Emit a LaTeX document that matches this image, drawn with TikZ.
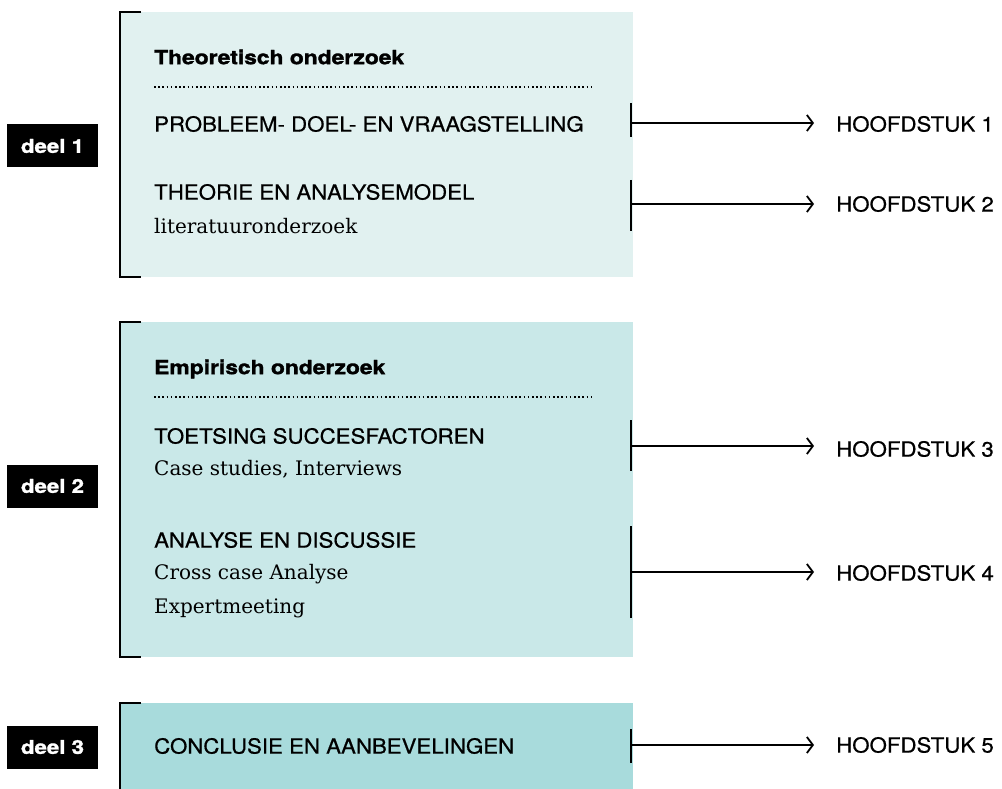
\documentclass[tikz,border=0pt]{standalone}
\usepackage{fontspec}
\setmainfont{DejaVu Serif}
\setsansfont{TeX Gyre Heros}
\newfontfamily\capsfont{TeX Gyre Heros}[FakeStretch=1.07, FakeBold=0.6]
\newfontfamily\heavyfont{TeX Gyre Heros Bold}[FakeStretch=1.17, FakeBold=1.6]
\usetikzlibrary{arrows.meta}

\definecolor{fillA}{HTML}{E1F1F0}
\definecolor{fillB}{HTML}{C9E8E8}
\definecolor{fillC}{HTML}{A8DBDC}

\tikzset{
  caps/.style={anchor=west, inner sep=0pt, font=\capsfont\fontsize{20.8}{24}\selectfont},
  head/.style={anchor=west, inner sep=0pt, font=\heavyfont\fontsize{19.5}{22}\selectfont},
  sub/.style={anchor=west, inner sep=0pt, font=\rmfamily\fontsize{20}{24}\selectfont},
  deel/.style={fill=black, text=white, minimum width=91pt, minimum height=43pt, inner sep=0pt,
    font=\heavyfont\fontsize{19}{22}\selectfont},
  bracket/.style={line width=2.4pt},
  dots/.style={line width=1.6pt, dash pattern=on 1.6pt off 2.6pt},
  tick/.style={line width=2.2pt},
  arr/.style={line width=1.8pt, -{Straight Barb[length=6pt,width=16pt,line width=1.8pt]}},
}

\begin{document}
\begin{tikzpicture}[x=1pt,y=-1pt]
\useasboundingbox (0,0) rectangle (1002,789);

% --- section panels -------------------------------------------------
\fill[fillA] (120,12) rectangle (633,277);
\fill[fillB] (120,322) rectangle (633,657);
\fill[fillC] (120,703) rectangle (633,789);

% brackets on the left of each panel
\draw[bracket] (141,12) -- (120,12) -- (120,277) -- (141,277);
\draw[bracket] (141,322) -- (120,322) -- (120,657) -- (141,657);
\draw[bracket] (141,703) -- (120,703) -- (120,792);

% --- part labels ----------------------------------------------------
\node[deel] (d1) at (52.5,146) {deel 1\hspace{5pt}};
\node[deel] (d2) at (52.5,486) {deel 2\hspace{5pt}};
\node[deel] (d3) at (52.5,747) {deel 3\hspace{5pt}};

% --- part 1 ---------------------------------------------------------
\node[head] (t1) at (154,57) {Theoretisch onderzoek};
\draw[dots] (154,87) -- (593,87);
\node[caps] (p1) at (154,124) {PROBLEEM- DOEL- EN VRAAGSTELLING};
\node[caps] (p2) at (154,192) {THEORIE EN ANALYSEMODEL};
\node[sub]  (s2) at (154,226) {literatuuronderzoek};

% --- part 2 ---------------------------------------------------------
\node[head] (t2) at (154,369) {Empirisch onderzoek};
\draw[dots] (154,397) -- (593,397);
\node[caps] (p3) at (154,436) {TOETSING SUCCESFACTOREN};
\node[sub]  (s3) at (154,469) {Case studies, Interviews};
\node[caps] (p4) at (154,540) {ANALYSE EN DISCUSSIE};
\node[sub]  (s4a) at (154,574) {Cross case Analyse};
\node[sub]  (s4b) at (154,608) {Expertmeeting};

% --- part 3 ---------------------------------------------------------
\node[caps] (p5) at (154,746) {CONCLUSIE EN AANBEVELINGEN};

% --- chapter references ---------------------------------------------
\node[caps] (h1) at (836,124) {HOOFDSTUK 1};
\node[caps] (h2) at (836,204) {HOOFDSTUK 2};
\node[caps] (h3) at (836,449) {HOOFDSTUK 3};
\node[caps] (h4) at (836,573) {HOOFDSTUK 4};
\node[caps] (h5) at (836,745) {HOOFDSTUK 5};

\coordinate (a1) at (631,123);
\coordinate (a2) at (631,204);
\coordinate (a3) at (631,446);
\coordinate (a4) at (631,572);
\coordinate (a5) at (631,745);

\draw[tick] (631,103) -- (631,137);
\draw[tick] (631,180) -- (631,231);
\draw[tick] (631,420) -- (631,471);
\draw[tick] (631,526) -- (631,618);
\draw[tick] (631,729) -- (631,763);

\foreach \i in {1,...,5}{
  \draw[arr, shorten >=22pt] (a\i) -- (a\i -| h\i.west);
}
\end{tikzpicture}
\end{document}
